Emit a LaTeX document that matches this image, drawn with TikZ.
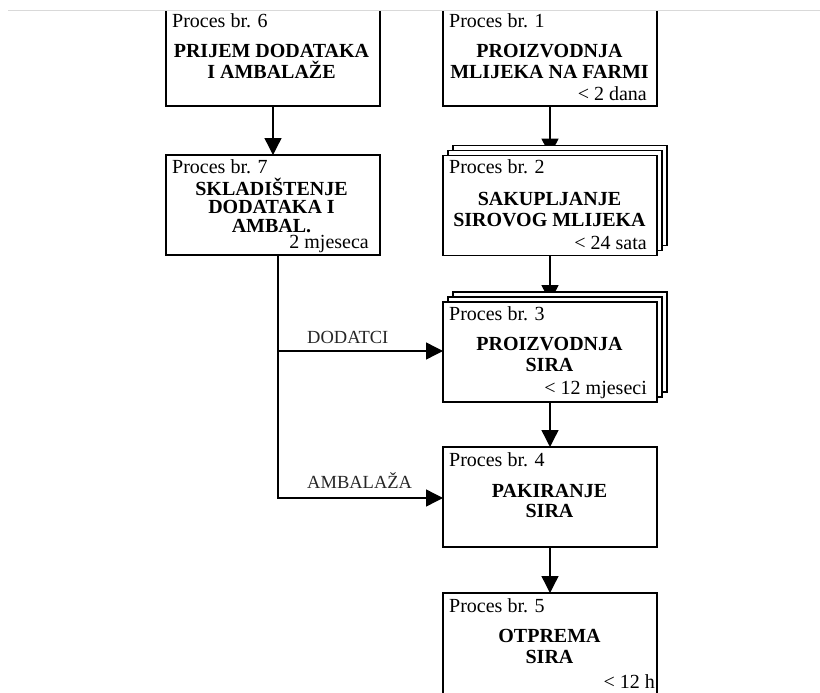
\documentclass[tikz,border=0pt]{standalone}
\usepackage{fontspec}
\setmainfont{Liberation Serif}
\usetikzlibrary{arrows.meta,shadows,backgrounds}
\tikzset{
  box/.style={draw, line width=1.5pt, fill=white, minimum width=214pt, minimum height=100pt, inner sep=0pt, outer sep=0pt},
  stack/.style={general shadow={shadow xshift=10pt,shadow yshift=10pt,draw,fill=white,line width=1.5pt},
                general shadow={shadow xshift=5pt,shadow yshift=5pt,draw,fill=white,line width=1.5pt}},
  txt/.style={font=\fontsize{20}{22}\selectfont, inner sep=0pt, anchor=base west},
  ttl/.style={font=\bfseries\fontsize{20}{22}\selectfont, inner sep=0pt, anchor=base},
  dur/.style={font=\fontsize{20}{22}\selectfont, inner sep=0pt, anchor=base east},
  flow/.style={font=\fontsize{18.5}{20}\selectfont, inner sep=0pt, anchor=base west, text=black!85},
  arr/.style={line width=1.4pt, -{Triangle[width=17pt,length=17pt]}}
}
\begin{document}
\begin{tikzpicture}[x=1pt,y=-1pt]
\useasboundingbox (0,0) rectangle (820,693);
\begin{scope}
\clip (0,10.6) rectangle (820,693);
% boxes
\node[box] (b6) at (273,56) {};
\node[box] (b1) at (550,56) {};
\node[box] (b7) at (273,205) {};
\node[box,stack] (b2) at (550,205.5) {};
\node[box,stack] (b3) at (550,352) {};
\node[box] (b4) at (550,497) {};
\node[box,minimum height=104pt] (b5) at (550,645) {};
\end{scope}
\draw[gray!30, line width=0.8pt] (8,10) -- (820,10);
% texts box 6
\node[txt] (p6) at (172,28) {Proces br. 6};
\node[ttl] (t6a) at (271.5,58) {PRIJEM DODATAKA};
\node[ttl] (t6b) at (271.5,79) {I AMBALAŽE};
% box 1
\node[txt] (p1) at (449,28) {Proces br. 1};
\node[ttl] (t1a) at (549.5,58) {PROIZVODNJA};
\node[ttl] (t1b) at (549.5,79) {MLIJEKA NA FARMI};
\node[dur] (d1) at (647,101) {< 2 dana};
% box 7
\node[txt] (p7) at (172,173) {Proces br. 7};
\node[ttl] (t7a) at (271.5,195) {SKLADIŠTENJE};
\node[ttl] (t7b) at (271.5,213.5) {DODATAKA I};
\node[ttl] (t7c) at (271.5,232) {AMBAL.};
\node[dur] (d7) at (369,248) {2 mjeseca};
% box 2
\node[txt] (p2) at (449,173) {Proces br. 2};
\node[ttl] (t2a) at (549.5,205) {SAKUPLJANJE};
\node[ttl] (t2b) at (549.5,226) {SIROVOG MLIJEKA};
\node[dur] (d2) at (647,249) {< 24 sata};
% box 3
\node[txt] (p3) at (449,320) {Proces br. 3};
\node[ttl] (t3a) at (549.5,350) {PROIZVODNJA};
\node[ttl] (t3b) at (549.5,371) {SIRA};
\node[dur] (d3) at (647,394) {< 12 mjeseci};
% box 4
\node[txt] (p4) at (449,466) {Proces br. 4};
\node[ttl] (t4a) at (549.5,497) {PAKIRANJE};
\node[ttl] (t4b) at (549.5,517) {SIRA};
% box 5
\node[txt] (p5) at (449,612) {Proces br. 5};
\node[ttl] (t5a) at (549.5,642) {OTPREMA};
\node[ttl] (t5b) at (549.5,663) {SIRA};
\node[dur] (d5) at (655,688) {< 12 h};
% flow labels
\node[flow] (lD) at (307,343) {DODATCI};
\node[flow] (lA) at (307,488) {AMBALAŽA};
% connectors
\coordinate (j1) at (278,351);
\coordinate (j2) at (278,498);
\begin{pgfonlayer}{background}
\draw[arr] (b6) -- (b7);
\draw[arr] (b1) -- (b2);
\draw[arr] (b2) -- (b3);
\draw[arr] (b3) -- (b4);
\draw[arr] (b4) -- (b5);
\draw[arr] (b7.south -| j2) -- (j2) -- (b4.west |- j2);
\draw[arr] (j1) -- (b3.west |- j1);
\end{pgfonlayer}
\end{tikzpicture}
\end{document}
